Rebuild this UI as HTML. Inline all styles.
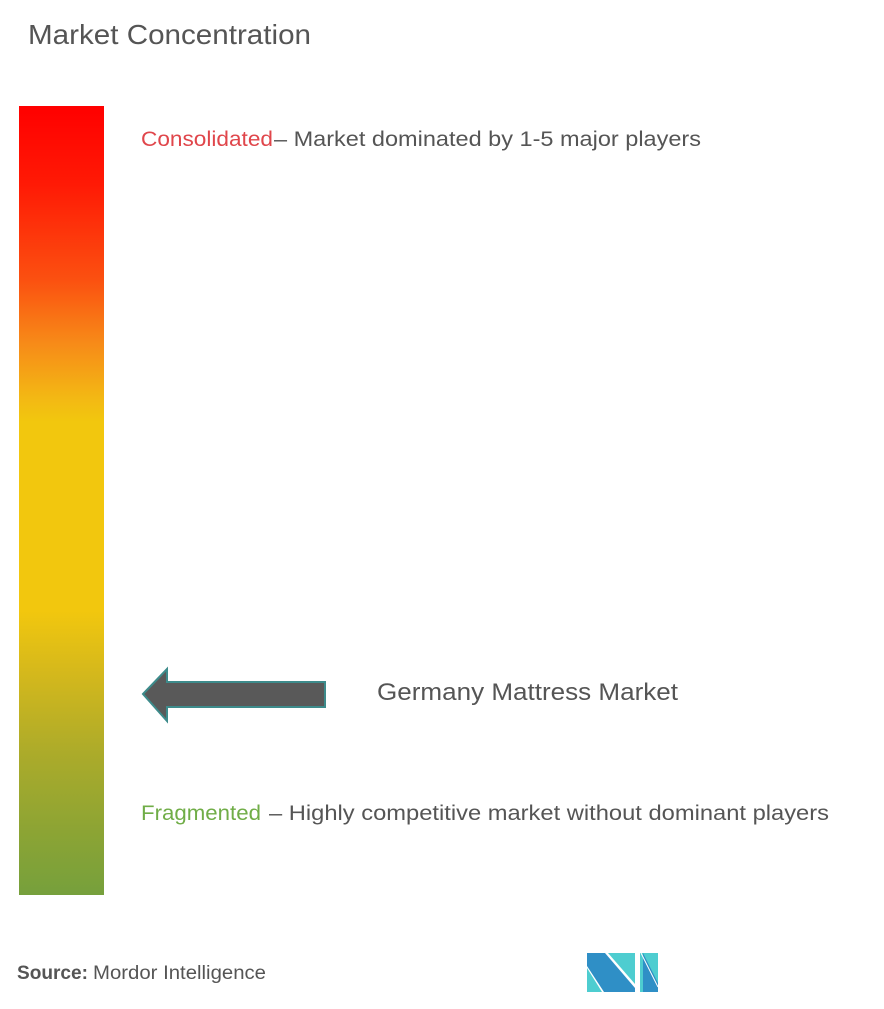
<!DOCTYPE html>
<html>
<head>
<meta charset="utf-8">
<style>
  html,body{margin:0;padding:0;background:#fff;}
  svg{display:block;}
  text{font-family:"Liberation Sans", sans-serif;}
</style>
</head>
<body>
<svg width="884" height="1009" viewBox="0 0 884 1009" xmlns="http://www.w3.org/2000/svg">
  <defs>
    <linearGradient id="bar" x1="0" y1="0" x2="0" y2="1">
      <stop offset="0" stop-color="#ff0000"/>
      <stop offset="0.10" stop-color="#ff1a05"/>
      <stop offset="0.22" stop-color="#fb5010"/>
      <stop offset="0.30" stop-color="#f78a18"/>
      <stop offset="0.37" stop-color="#f3b814"/>
      <stop offset="0.40" stop-color="#f2c70e"/>
      <stop offset="0.64" stop-color="#f2c70e"/>
      <stop offset="0.72" stop-color="#d4b81c"/>
      <stop offset="0.82" stop-color="#acab2a"/>
      <stop offset="0.92" stop-color="#8ca434"/>
      <stop offset="1" stop-color="#76a03c"/>
    </linearGradient>
  </defs>

  <!-- Title -->
  <text x="28" y="44" font-size="28" fill="#555555" textLength="283" lengthAdjust="spacingAndGlyphs">Market Concentration</text>

  <!-- Gradient bar -->
  <rect x="19" y="106" width="85" height="789" fill="url(#bar)"/>

  <!-- Consolidated -->
  <text x="141" y="146" font-size="21" fill="#e0464b" textLength="132" lengthAdjust="spacingAndGlyphs">Consolidated</text>
  <text x="274" y="146" font-size="21" fill="#555555" textLength="427" lengthAdjust="spacingAndGlyphs">– Market dominated by 1-5 major players</text>

  <!-- Arrow -->
  <polygon points="143,694 167,669 167,682 325,682 325,707 167,707 167,721" fill="#595959" stroke="#3d8b8b" stroke-width="2" stroke-linejoin="miter"/>

  <!-- Market label -->
  <text x="377" y="700" font-size="24" fill="#555555" textLength="301" lengthAdjust="spacingAndGlyphs">Germany Mattress Market</text>

  <!-- Fragmented -->
  <text x="141" y="820" font-size="21" fill="#70ad47" textLength="120" lengthAdjust="spacingAndGlyphs">Fragmented</text>
  <text x="269" y="820" font-size="21" fill="#555555" textLength="560" lengthAdjust="spacingAndGlyphs">– Highly competitive market without dominant players</text>

  <!-- Source -->
  <text x="17" y="979" font-size="19" font-weight="bold" fill="#555555" textLength="71" lengthAdjust="spacingAndGlyphs">Source:</text>
  <text x="93" y="979" font-size="19" fill="#555555" textLength="173" lengthAdjust="spacingAndGlyphs">Mordor Intelligence</text>

  <!-- Logo -->
  <g>
    <!-- piece 1 -->
    <polygon points="587,968 587,992 602,992" fill="#4ecdd0"/>
    <polygon points="587,953 605,953 635,988 635,992 604,992 587,966" fill="#2f8fc6"/>
    <polygon points="608,953 635,953 635,984" fill="#4ecdd0"/>
    <!-- piece 2 -->
    <rect x="640" y="953" width="18" height="39" fill="#4ecdd0"/>
    <polygon points="643,953 658,983 658,992 643,992" fill="#2f8fc6"/>
    <line x1="641" y1="953" x2="658" y2="987" stroke="#ffffff" stroke-width="1"/>
  </g>
</svg>
</body>
</html>
